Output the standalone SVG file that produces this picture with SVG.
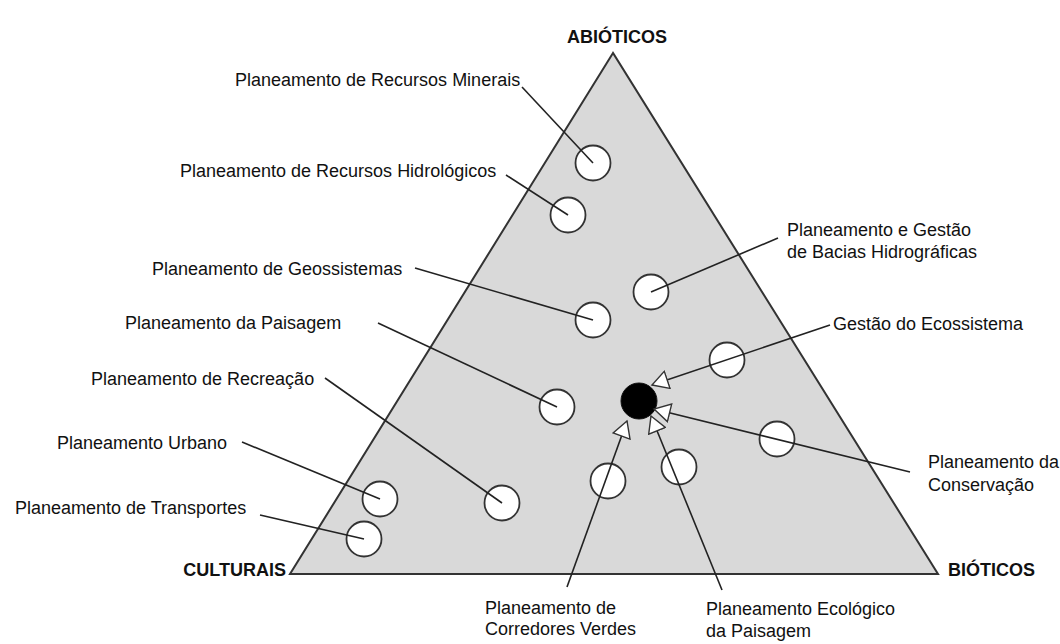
<svg xmlns="http://www.w3.org/2000/svg" width="1060" height="644" viewBox="0 0 1060 644">
<style>
.tri{fill:#d9d9d9;stroke:#333;stroke-width:2;stroke-linejoin:miter}
.c{fill:#fff;stroke:#333;stroke-width:1.8}
.cb{fill:#000;stroke:#111;stroke-width:1}
.t{font-family:"Liberation Sans",Arial,sans-serif;font-size:18px;fill:#111}
.tb{font-family:"Liberation Sans",Arial,sans-serif;font-size:18px;font-weight:bold;fill:#111}
.ln{stroke:#222;stroke-width:1.6;fill:none}
.ar{stroke:#222;stroke-width:1.6;fill:none;marker-end:url(#arr)}
</style>
<defs>
<marker id="arr" viewBox="0 0 20 20" refX="17" refY="10" markerWidth="20" markerHeight="20" markerUnits="userSpaceOnUse" orient="auto">
<path d="M17,10 L1,1 L1,19 Z" fill="#fff" stroke="#333" stroke-width="1.4" stroke-linejoin="miter"/>
</marker>
</defs>
<rect width="1060" height="644" fill="#fff"/>
<g id="triangle"><polygon class="tri" points="613,53 290,574 938,574"/></g>
<g id="vertex-abioticos"><text class="tb" x="617" y="43" text-anchor="middle">ABIÓTICOS</text></g>
<g id="vertex-culturais"><text class="tb" x="286" y="576" text-anchor="end">CULTURAIS</text></g>
<g id="vertex-bioticos"><text class="tb" x="948" y="576">BIÓTICOS</text></g>

<g id="c-minerais"><circle class="c" cx="593" cy="163" r="17.5"/></g>
<g id="c-hidrologicos"><circle class="c" cx="568" cy="215" r="17.5"/></g>
<g id="c-bacias"><circle class="c" cx="651" cy="292" r="17.5"/></g>
<g id="c-geossistemas"><circle class="c" cx="593" cy="320" r="17.5"/></g>
<g id="c-ecossistema2"><circle class="c" cx="727" cy="360" r="17.5"/></g>
<g id="c-paisagem"><circle class="c" cx="557" cy="407" r="17.5"/></g>
<g id="c-gestao"><circle class="cb" cx="639" cy="401" r="18"/></g>
<g id="c-conservacao"><circle class="c" cx="777" cy="439" r="17.5"/></g>
<g id="c-ecologico"><circle class="c" cx="679" cy="467" r="17.5"/></g>
<g id="c-corredores"><circle class="c" cx="608" cy="481" r="17.5"/></g>
<g id="c-recreacao"><circle class="c" cx="502" cy="503" r="17.5"/></g>
<g id="c-urbano"><circle class="c" cx="380" cy="499" r="17.5"/></g>
<g id="c-transportes"><circle class="c" cx="364" cy="539" r="17.5"/></g>

<g id="connectors">
<line class="ln" x1="522" y1="87" x2="593" y2="163"/>
<line class="ln" x1="506" y1="175" x2="568" y2="215"/>
<line class="ln" x1="415" y1="268" x2="593" y2="320"/>
<line class="ln" x1="378" y1="323" x2="557" y2="407"/>
<line class="ln" x1="325" y1="378" x2="502" y2="503"/>
<line class="ln" x1="242" y1="442" x2="380" y2="499"/>
<line class="ln" x1="260" y1="515" x2="364" y2="539"/>
<line class="ln" x1="778" y1="238" x2="651" y2="292"/>
<line class="ar" x1="830" y1="325" x2="652" y2="385"/>
<line class="ar" x1="910" y1="472" x2="654" y2="409"/>
<line class="ar" x1="567" y1="587" x2="627" y2="421"/>
<line class="ar" x1="722" y1="590" x2="651" y2="416"/>
</g>

<g id="l-minerais"><text class="t" x="235" y="86">Planeamento de Recursos Minerais</text></g>
<g id="l-hidrologicos"><text class="t" x="180" y="177">Planeamento de Recursos Hidrológicos</text></g>
<g id="l-geossistemas"><text class="t" x="152" y="275">Planeamento de Geossistemas</text></g>
<g id="l-paisagem"><text class="t" x="125" y="329">Planeamento da Paisagem</text></g>
<g id="l-recreacao"><text class="t" x="91" y="385">Planeamento de Recreação</text></g>
<g id="l-urbano"><text class="t" x="57" y="449">Planeamento Urbano</text></g>
<g id="l-transportes"><text class="t" x="15" y="514">Planeamento de Transportes</text></g>
<g id="l-bacias"><text class="t" x="787" y="236">Planeamento e Gestão</text><text class="t" x="787" y="258">de Bacias Hidrográficas</text></g>
<g id="l-gestao"><text class="t" x="833" y="330">Gestão do Ecossistema</text></g>
<g id="l-conservacao"><text class="t" x="928" y="468">Planeamento da</text><text class="t" x="928" y="491">Conservação</text></g>
<g id="l-corredores"><text class="t" x="485" y="614">Planeamento de</text><text class="t" x="485" y="635">Corredores Verdes</text></g>
<g id="l-ecologico"><text class="t" x="706" y="615">Planeamento Ecológico</text><text class="t" x="706" y="637">da Paisagem</text></g>
</svg>
